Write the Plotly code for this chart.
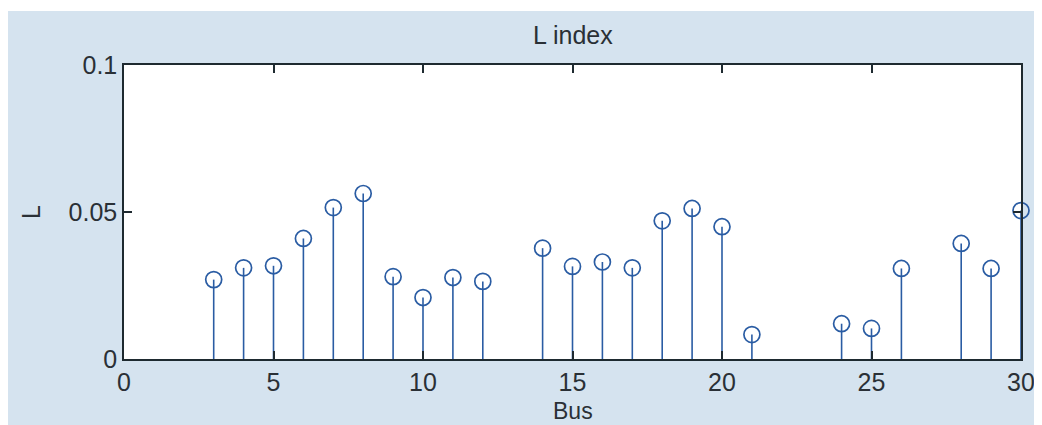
import plotly.graph_objects as go

bus = [3, 4, 5, 6, 7, 8, 9, 10, 11, 12, 14, 15, 16, 17, 18, 19, 20, 21, 24, 25, 26, 28, 29, 30]
L_values = [0.0270, 0.0310, 0.0317, 0.0410, 0.0515, 0.0563, 0.0280, 0.0209, 0.0277, 0.0264,
            0.0377, 0.0315, 0.0330, 0.0310, 0.0470, 0.0512, 0.0450, 0.0083, 0.0120, 0.0104,
            0.0308, 0.0393, 0.0308, 0.0505]
x_ticks = [0, 5, 10, 15, 20, 25, 30]
y_ticks = [0, 0.05, 0.1]
y_tick_labels = ["0", "0.05", "0.1"]

blue = "#2a5ca3"
bg = "#d5e3ef"
txt = "#2a3036"
font_fam = "Liberation Sans, Arial"

stem_x, stem_y = [], []
for b, v in zip(bus, L_values):
    stem_x += [b, b, None]
    stem_y += [0, v, None]

fig = go.Figure()
fig.add_trace(go.Scatter(x=stem_x, y=stem_y, mode="lines",
                         line=dict(color=blue, width=1.6), hoverinfo="skip", showlegend=False,
                         cliponaxis=False))
fig.add_trace(go.Scatter(x=bus, y=L_values, mode="markers",
                         marker=dict(symbol="circle-open", size=16, color=blue, line=dict(width=1.7)),
                         showlegend=False, cliponaxis=False))

axis_common = dict(showline=True, linecolor="#1e2a30", linewidth=1.5, mirror="ticks",
                   ticks="inside", ticklen=8, tickwidth=1.5, tickcolor="#1e2a30",
                   showgrid=False, zeroline=False,
                   tickfont=dict(family=font_fam, size=25, color=txt))

fig.update_xaxes(range=[0, 30], tickvals=x_ticks, automargin=False, **axis_common)
fig.update_yaxes(range=[0, 0.1], tickvals=y_ticks, ticktext=y_tick_labels, automargin=False,
                 **axis_common)

# figure is offset by the page's 8px body margin, so it is sized to fit the window
W, H = 1034, 417
L_m, R_m, T_m, B_m = 116, 21, 57, 66
pw, ph = W - L_m - R_m, H - T_m - B_m

fig.update_layout(
    width=W, height=H,
    margin=dict(l=L_m, r=R_m, t=T_m, b=B_m),
    paper_bgcolor=bg, plot_bgcolor="white",
    shapes=[dict(type="rect", xref="paper", yref="paper", x0=-0.2, x1=1.1,
                 y0=1 + (T_m - 3) / ph, y1=1.5, fillcolor="white", line=dict(width=0), layer="below")],
    annotations=[
        dict(text="L index", xref="paper", yref="paper", x=0.5, y=1 + 30 / ph, yanchor="middle",
             showarrow=False, font=dict(family=font_fam, size=25, color=txt)),
        dict(text="L", xref="paper", yref="paper", x=-93 / pw, y=0.5, textangle=-90,
             xanchor="center", yanchor="middle",
             showarrow=False, font=dict(family=font_fam, size=25, color=txt)),
        dict(text="Bus", xref="paper", yref="paper", x=0.5, y=-52 / ph, yanchor="middle",
             showarrow=False, font=dict(family=font_fam, size=23, color=txt)),
    ],
)

fig.write_html("out.html")
